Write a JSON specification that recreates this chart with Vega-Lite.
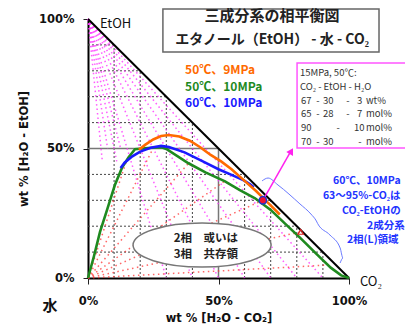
{
  "$schema": "https://vega.github.io/schema/vega-lite/v6.json",
  "width": 261,
  "height": 259,
  "autosize": "none",
  "padding": {"left": 88, "top": 19, "right": 56, "bottom": 48},
  "background": "white",
  "config": {"view": {"stroke": null}, "font": "Noto Sans CJK JP"},
  "datasets": {
    "grid": [
      {"x": 0, "x2": 90, "y": 10, "y2": 10}, {"x": 0, "x2": 80, "y": 20, "y2": 20},
      {"x": 0, "x2": 70, "y": 30, "y2": 30}, {"x": 0, "x2": 60, "y": 40, "y2": 40},
      {"x": 0, "x2": 40, "y": 60, "y2": 60}, {"x": 0, "x2": 30, "y": 70, "y2": 70},
      {"x": 0, "x2": 20, "y": 80, "y2": 80}, {"x": 0, "x2": 10, "y": 90, "y2": 90},
      {"x": 10, "x2": 10, "y": 0, "y2": 90}, {"x": 20, "x2": 20, "y": 0, "y2": 80},
      {"x": 30, "x2": 30, "y": 0, "y2": 70}, {"x": 40, "x2": 40, "y": 0, "y2": 60},
      {"x": 60, "x2": 60, "y": 0, "y2": 40}, {"x": 70, "x2": 70, "y": 0, "y2": 30},
      {"x": 80, "x2": 80, "y": 0, "y2": 20}, {"x": 90, "x2": 90, "y": 0, "y2": 10}
    ],
    "mid": [
      {"x": 0, "x2": 50, "y": 50, "y2": 50}, {"x": 50, "x2": 50, "y": 0, "y2": 50}
    ],
    "magenta": [
      {"x": 0, "y": 100, "x2": 5.5, "y2": 45}, {"x": 0, "y": 100, "x2": 7.5, "y2": 50},
      {"x": 0, "y": 100, "x2": 11, "y2": 45}, {"x": 0, "y": 100, "x2": 12.5, "y2": 50},
      {"x": 0, "y": 100, "x2": 30, "y2": 0}, {"x": 0, "y": 100, "x2": 40, "y2": 0},
      {"x": 0, "y": 100, "x2": 50, "y2": 0}, {"x": 0, "y": 100, "x2": 60, "y2": 0},
      {"x": 0, "y": 100, "x2": 70, "y2": 0}, {"x": 0, "y": 100, "x2": 80, "y2": 0},
      {"x": 0, "y": 100, "x2": 90, "y2": 0}
    ],
    "red": [
      {"x": 0, "y": 0, "x2": 15, "y2": 46}, {"x": 0, "y": 0, "x2": 25, "y2": 50.2},
      {"x": 0, "y": 0, "x2": 38.5, "y2": 44.3}, {"x": 0, "y": 0, "x2": 52.5, "y2": 37.5},
      {"x": 0, "y": 0, "x2": 67, "y2": 30}, {"x": 0, "y": 0, "x2": 81.5, "y2": 17.8},
      {"x": 0, "y": 0, "x2": 92, "y2": 5}
    ],
    "curves": [
      {"s": "50℃、10MPa", "x": 0, "y": 0}, {"s": "50℃、10MPa", "x": 2.3, "y": 8.5},
      {"s": "50℃、10MPa", "x": 4.6, "y": 17.8}, {"s": "50℃、10MPa", "x": 7.3, "y": 26.3},
      {"s": "50℃、10MPa", "x": 10.3, "y": 35.9}, {"s": "50℃、10MPa", "x": 13, "y": 42.5},
      {"s": "50℃、10MPa", "x": 15.5, "y": 46.5}, {"s": "50℃、10MPa", "x": 18, "y": 49.7},
      {"s": "50℃、10MPa", "x": 23, "y": 50.2}, {"s": "50℃、10MPa", "x": 28.2, "y": 50.5},
      {"s": "50℃、10MPa", "x": 30, "y": 49.8}, {"s": "50℃、10MPa", "x": 38.5, "y": 44.3},
      {"s": "50℃、10MPa", "x": 45, "y": 40.8}, {"s": "50℃、10MPa", "x": 52.5, "y": 37.3},
      {"s": "50℃、10MPa", "x": 58, "y": 34}, {"s": "50℃、10MPa", "x": 64, "y": 30.8},
      {"s": "50℃、10MPa", "x": 70, "y": 26.3}, {"s": "50℃、10MPa", "x": 75.5, "y": 21},
      {"s": "50℃、10MPa", "x": 81.5, "y": 15.3}, {"s": "50℃、10MPa", "x": 87.5, "y": 9.3},
      {"s": "50℃、10MPa", "x": 93, "y": 4}, {"s": "50℃、10MPa", "x": 97, "y": 1},
      {"s": "50℃、10MPa", "x": 100, "y": 0},
      {"s": "60℃、10MPa", "x": 12.5, "y": 42.5}, {"s": "60℃、10MPa", "x": 14, "y": 44.5},
      {"s": "60℃、10MPa", "x": 17, "y": 47}, {"s": "60℃、10MPa", "x": 20, "y": 48.8},
      {"s": "60℃、10MPa", "x": 24, "y": 50.3}, {"s": "60℃、10MPa", "x": 28, "y": 51},
      {"s": "60℃、10MPa", "x": 31, "y": 50.6}, {"s": "60℃、10MPa", "x": 37, "y": 48.5},
      {"s": "60℃、10MPa", "x": 44, "y": 45}, {"s": "60℃、10MPa", "x": 50, "y": 42},
      {"s": "60℃、10MPa", "x": 55, "y": 39.8}, {"s": "60℃、10MPa", "x": 59.5, "y": 37.8},
      {"s": "60℃、10MPa", "x": 62, "y": 36.3}, {"s": "60℃、10MPa", "x": 63.5, "y": 35},
      {"s": "50℃、9MPa", "x": 19.5, "y": 49.5}, {"s": "50℃、9MPa", "x": 22, "y": 51.5},
      {"s": "50℃、9MPa", "x": 25, "y": 53.5}, {"s": "50℃、9MPa", "x": 28, "y": 54.8},
      {"s": "50℃、9MPa", "x": 31, "y": 55.2}, {"s": "50℃、9MPa", "x": 35, "y": 54.6},
      {"s": "50℃、9MPa", "x": 39, "y": 53}, {"s": "50℃、9MPa", "x": 43, "y": 50.5},
      {"s": "50℃、9MPa", "x": 47, "y": 47.5}, {"s": "50℃、9MPa", "x": 51, "y": 45},
      {"s": "50℃、9MPa", "x": 55, "y": 42}, {"s": "50℃、9MPa", "x": 60, "y": 37.5},
      {"s": "50℃、9MPa", "x": 64.5, "y": 33.5}, {"s": "50℃、9MPa", "x": 69, "y": 29},
      {"s": "50℃、9MPa", "x": 73.5, "y": 24.5}
    ],
    "legend": [
      {"s": "50℃、9MPa", "x": 37.2, "y": 80.3},
      {"s": "50℃、10MPa", "x": 37.2, "y": 73.7},
      {"s": "60℃、10MPa", "x": 37.2, "y": 67.6}
    ],
    "brace": [
      {"o": 1, "x": 66.7, "y": 37.5}, {"o": 2, "x": 69.0, "y": 38.6},
      {"o": 3, "x": 72.8, "y": 35.9}, {"o": 4, "x": 81.2, "y": 28.6},
      {"o": 5, "x": 85.4, "y": 24.7}, {"o": 6, "x": 87.5, "y": 22.0},
      {"o": 7, "x": 88.0, "y": 21.0}, {"o": 8, "x": 92.7, "y": 16.6},
      {"o": 9, "x": 96.6, "y": 11.6}, {"o": 10, "x": 97.7, "y": 7.7},
      {"o": 11, "x": 96.6, "y": 5.8}
    ],
    "boxtext": [
      {"x": 81.2, "y": 79.2, "t": "15MPa, 50℃:"},
      {"x": 81.2, "y": 73.7, "t": "CO₂ - EtOH - H₂O"},
      {"x": 81.6, "y": 68.3, "t": "67"}, {"x": 90.0, "y": 68.3, "t": "30"},
      {"x": 103.1, "y": 68.3, "t": "3"}, {"x": 106.5, "y": 68.3, "t": "wt%"},
      {"x": 81.6, "y": 63.3, "t": "65"}, {"x": 90.0, "y": 63.3, "t": "28"},
      {"x": 103.1, "y": 63.3, "t": "7"}, {"x": 106.5, "y": 63.3, "t": "mol%"},
      {"x": 81.6, "y": 57.9, "t": "90"}, {"x": 101.9, "y": 57.9, "t": "10"},
      {"x": 106.5, "y": 57.9, "t": "mol%"},
      {"x": 81.6, "y": 52.5, "t": "70"}, {"x": 90.0, "y": 52.5, "t": "30"},
      {"x": 106.5, "y": 52.5, "t": "mol%"}
    ],
    "boxdash": [
      {"x": 88.1, "y": 68.3}, {"x": 99.6, "y": 68.3},
      {"x": 88.1, "y": 63.3}, {"x": 99.6, "y": 63.3},
      {"x": 95.8, "y": 57.9},
      {"x": 88.1, "y": 52.5}, {"x": 104.2, "y": 52.5}
    ],
    "bluetext": [
      {"x": 93.9, "y": 37.5, "t": "60℃、10MPa"},
      {"x": 90.0, "y": 31.7, "t": "63～95%-CO₂は"},
      {"x": 97.3, "y": 25.9, "t": "CO₂-EtOHの"},
      {"x": 106.9, "y": 20.1, "t": "2成分系"},
      {"x": 99.2, "y": 14.7, "t": "2相(L)領域"}
    ]
  },
  "layer": [
    {
      "data": {"name": "grid"},
      "mark": {"type": "rule", "color": "#444444", "strokeDash": [2, 2], "strokeWidth": 1},
      "encoding": {
        "x": {
          "field": "x", "type": "quantitative",
          "scale": {"domain": [0, 100], "nice": false, "zero": false},
          "axis": {
            "values": [0, 50, 100], "labelExpr": "datum.value + '%'",
            "title": "wt % [H₂O - CO₂]", "grid": false,
            "domainColor": "#000000", "domainWidth": 2,
            "tickColor": "#222222", "tickSize": 6, "tickWidth": 1,
            "labelPadding": 11, "labelFlush": false,
            "labelFont": "DejaVu Sans", "labelFontSize": 11.5, "labelFontWeight": "bold", "labelColor": "#111111",
            "titleFont": "DejaVu Sans", "titleFontSize": 11.5, "titleFontWeight": "bold", "titleColor": "#111111",
            "titlePadding": 6
          }
        },
        "x2": {"field": "x2"},
        "y": {
          "field": "y", "type": "quantitative",
          "scale": {"domain": [0, 100], "nice": false, "zero": false},
          "axis": {
            "values": [0, 50, 100], "labelExpr": "datum.value + '%'",
            "title": "wt % [H₂O - EtOH]", "grid": false,
            "domainColor": "#000000", "domainWidth": 2,
            "tickColor": "#222222", "tickSize": 5, "tickWidth": 1,
            "labelPadding": 9, "labelFlush": false,
            "labelFont": "DejaVu Sans", "labelFontSize": 11.5, "labelFontWeight": "bold", "labelColor": "#111111",
            "titleFont": "DejaVu Sans", "titleFontSize": 11.5, "titleFontWeight": "bold", "titleColor": "#111111",
            "titlePadding": 9
          }
        },
        "y2": {"field": "y2"}
      }
    },
    {
      "data": {"name": "mid"},
      "mark": {"type": "rule", "color": "#777777", "strokeWidth": 1.5},
      "encoding": {
        "x": {"field": "x", "type": "quantitative"}, "x2": {"field": "x2"},
        "y": {"field": "y", "type": "quantitative"}, "y2": {"field": "y2"}
      }
    },
    {
      "data": {"name": "magenta"},
      "mark": {"type": "rule", "color": "#ff33ff", "strokeDash": [1.5, 3], "strokeWidth": 1.5, "opacity": 0.8},
      "encoding": {
        "x": {"field": "x", "type": "quantitative"}, "x2": {"field": "x2"},
        "y": {"field": "y", "type": "quantitative"}, "y2": {"field": "y2"}
      }
    },
    {
      "data": {"name": "red"},
      "mark": {"type": "rule", "color": "#ff3333", "strokeDash": [1.5, 3.5], "strokeWidth": 1.5, "opacity": 0.75},
      "encoding": {
        "x": {"field": "x", "type": "quantitative"}, "x2": {"field": "x2"},
        "y": {"field": "y", "type": "quantitative"}, "y2": {"field": "y2"}
      }
    },
    {
      "data": {"values": [{"x": 0, "y": 100, "x2": 100, "y2": 0}]},
      "mark": {"type": "rule", "color": "#000000", "strokeWidth": 2},
      "encoding": {
        "x": {"field": "x", "type": "quantitative"}, "x2": {"field": "x2"},
        "y": {"field": "y", "type": "quantitative"}, "y2": {"field": "y2"}
      }
    },
    {
      "data": {"name": "curves"},
      "mark": {"type": "line", "strokeWidth": 2.6},
      "encoding": {
        "x": {"field": "x", "type": "quantitative"},
        "y": {"field": "y", "type": "quantitative"},
        "color": {
          "field": "s", "type": "nominal",
          "scale": {"domain": ["50℃、9MPa", "50℃、10MPa", "60℃、10MPa"], "range": ["#ff6a00", "#1f8a1f", "#1a1aff"]},
          "legend": null
        }
      }
    },
    {
      "data": {"name": "brace"},
      "mark": {"type": "line", "color": "#6a7aff", "strokeWidth": 1, "interpolate": "monotone"},
      "encoding": {
        "x": {"field": "x", "type": "quantitative"},
        "y": {"field": "y", "type": "quantitative"},
        "order": {"field": "o"}
      }
    },
    {
      "data": {"values": [{"x": 43.7, "y": 12.7}]},
      "mark": {
        "type": "point", "filled": true, "fill": "#ffffff", "stroke": "#777777", "strokeWidth": 1.5, "opacity": 1,
        "size": 19044,
        "shape": "M 1 0 C 1 0.176 0.552 0.319 0 0.319 C -0.552 0.319 -1 0.176 -1 0 C -1 -0.176 -0.552 -0.319 0 -0.319 C 0.552 -0.319 1 -0.176 1 0 Z"
      },
      "encoding": {
        "x": {"field": "x", "type": "quantitative"},
        "y": {"field": "y", "type": "quantitative"}
      }
    },
    {
      "data": {"values": [{"x": 45.2, "y": 14.9, "t": "2相　或いは"}, {"x": 45.2, "y": 9.0, "t": "3相　共存領"}]},
      "mark": {"type": "text", "font": "Noto Sans CJK JP", "fontSize": 11.5, "fontWeight": "bold", "color": "#222222", "align": "center", "baseline": "middle"},
      "encoding": {
        "x": {"field": "x", "type": "quantitative"},
        "y": {"field": "y", "type": "quantitative"},
        "text": {"field": "t"}
      }
    },
    {
      "data": {"values": [{"x": 67, "y": 30, "x2": 77.9, "y2": 49.3}]},
      "mark": {"type": "rule", "color": "#ff22ee", "strokeWidth": 1.5},
      "encoding": {
        "x": {"field": "x", "type": "quantitative"}, "x2": {"field": "x2"},
        "y": {"field": "y", "type": "quantitative"}, "y2": {"field": "y2"}
      }
    },
    {
      "data": {"values": [{"x": 77.9, "y": 49.0}]},
      "mark": {"type": "point", "shape": "triangle-up", "angle": 30, "filled": true, "color": "#ff22ee", "opacity": 1, "size": 60},
      "encoding": {
        "x": {"field": "x", "type": "quantitative"},
        "y": {"field": "y", "type": "quantitative"}
      }
    },
    {
      "data": {"values": [{"x": 67, "y": 30}]},
      "mark": {"type": "point", "filled": true, "fill": "#ee1133", "stroke": "#2233cc", "strokeWidth": 1.5, "opacity": 1, "size": 55},
      "encoding": {
        "x": {"field": "x", "type": "quantitative"},
        "y": {"field": "y", "type": "quantitative"}
      }
    },
    {
      "data": {"values": [{"x": 81.5, "y": 17.8}]},
      "mark": {"type": "point", "shape": "triangle-up", "filled": false, "stroke": "#dd2222", "strokeWidth": 1.2, "opacity": 1, "size": 30},
      "encoding": {
        "x": {"field": "x", "type": "quantitative"},
        "y": {"field": "y", "type": "quantitative"}
      }
    },
    {
      "data": {"values": [{"x": 28.7, "x2": 111.5, "y": 103.9, "y2": 87.3}]},
      "mark": {"type": "rect", "fill": "#ffffff", "stroke": "#666666", "strokeWidth": 1.5},
      "encoding": {
        "x": {"field": "x", "type": "quantitative"}, "x2": {"field": "x2"},
        "y": {"field": "y", "type": "quantitative"}, "y2": {"field": "y2"}
      }
    },
    {
      "data": {"values": [{"x": 70.5, "y": 101.2, "t": "三成分系の相平衡図"}]},
      "mark": {"type": "text", "font": "Noto Sans CJK JP", "fontSize": 15, "fontWeight": "bold", "color": "#222222", "align": "center", "baseline": "middle"},
      "encoding": {
        "x": {"field": "x", "type": "quantitative"},
        "y": {"field": "y", "type": "quantitative"},
        "text": {"field": "t"}
      }
    },
    {
      "data": {"values": [{"x": 70.5, "y": 91.9, "t": "エタノール（EtOH） - 水 - CO₂"}]},
      "mark": {"type": "text", "font": "Noto Sans CJK JP", "fontSize": 14, "fontWeight": "bold", "color": "#222222", "align": "center", "baseline": "middle"},
      "encoding": {
        "x": {"field": "x", "type": "quantitative"},
        "y": {"field": "y", "type": "quantitative"},
        "text": {"field": "t"}
      }
    },
    {
      "data": {"name": "legend"},
      "mark": {"type": "text", "font": "Noto Sans CJK JP", "fontSize": 12, "fontWeight": "bold", "align": "left", "baseline": "middle"},
      "encoding": {
        "x": {"field": "x", "type": "quantitative"},
        "y": {"field": "y", "type": "quantitative"},
        "text": {"field": "s"},
        "color": {"field": "s", "type": "nominal", "legend": null}
      }
    },
    {
      "data": {"values": [{"x": 80.1, "x2": 124, "y": 83, "y2": 50.2}]},
      "mark": {"type": "rect", "fill": "#ffffff", "stroke": "#ff55ff", "strokeWidth": 1.5},
      "encoding": {
        "x": {"field": "x", "type": "quantitative"}, "x2": {"field": "x2"},
        "y": {"field": "y", "type": "quantitative"}, "y2": {"field": "y2"}
      }
    },
    {
      "data": {"name": "boxtext"},
      "mark": {"type": "text", "font": "Noto Sans CJK JP", "fontSize": 9.5, "color": "#333333", "align": "left", "baseline": "middle"},
      "encoding": {
        "x": {"field": "x", "type": "quantitative"},
        "y": {"field": "y", "type": "quantitative"},
        "text": {"field": "t"}
      }
    },
    {
      "data": {"name": "boxdash"},
      "mark": {"type": "text", "font": "Noto Sans CJK JP", "fontSize": 9.5, "color": "#333333", "align": "center", "baseline": "middle", "text": "-"},
      "encoding": {
        "x": {"field": "x", "type": "quantitative"},
        "y": {"field": "y", "type": "quantitative"}
      }
    },
    {
      "data": {"name": "bluetext"},
      "mark": {"type": "text", "font": "Noto Sans CJK JP", "fontSize": 10.5, "fontWeight": "bold", "color": "#2233ff", "align": "left", "baseline": "middle"},
      "encoding": {
        "x": {"field": "x", "type": "quantitative"},
        "y": {"field": "y", "type": "quantitative"},
        "text": {"field": "t"}
      }
    },
    {
      "data": {"values": [{"x": 4.6, "y": 98.1, "t": "EtOH"}, {"x": 104.2, "y": -1.5, "t": "CO₂"}]},
      "mark": {"type": "text", "font": "Noto Sans CJK JP", "fontSize": 13, "color": "#111111", "align": "left", "baseline": "middle"},
      "encoding": {
        "x": {"field": "x", "type": "quantitative"},
        "y": {"field": "y", "type": "quantitative"},
        "text": {"field": "t"}
      }
    },
    {
      "data": {"values": [{"x": -14.6, "y": -10.8, "t": "水"}]},
      "mark": {"type": "text", "font": "Noto Sans CJK JP", "fontSize": 15, "fontWeight": "bold", "color": "#111111", "align": "center", "baseline": "middle"},
      "encoding": {
        "x": {"field": "x", "type": "quantitative"},
        "y": {"field": "y", "type": "quantitative"},
        "text": {"field": "t"}
      }
    }
  ]
}
